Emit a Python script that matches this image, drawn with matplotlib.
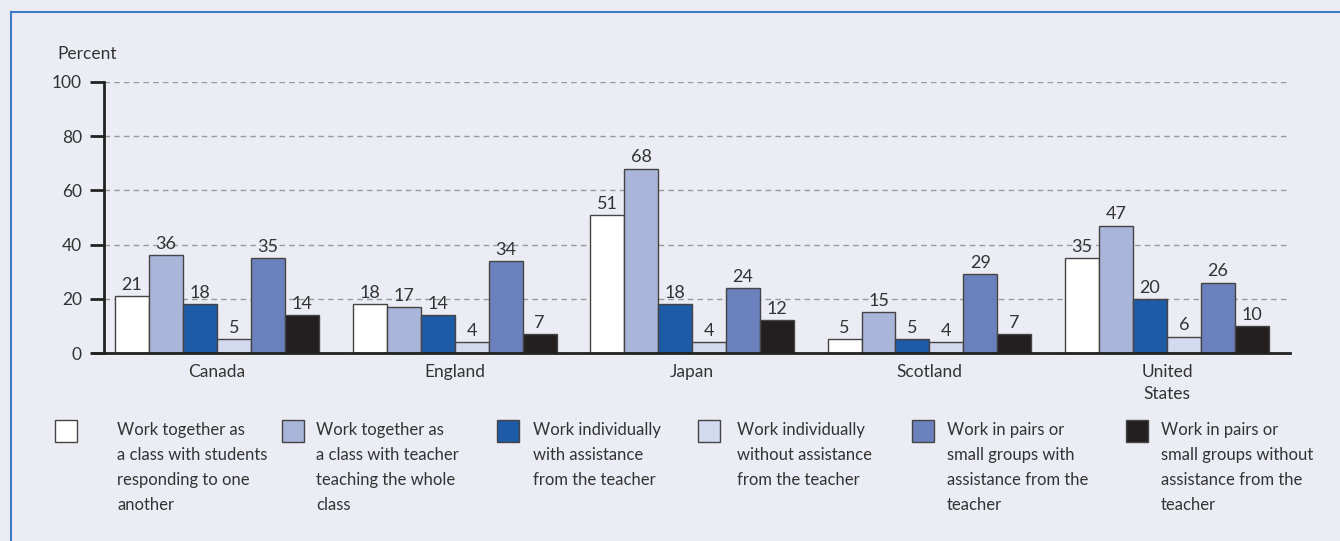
import numpy as np
import matplotlib
matplotlib.use("Agg")
import matplotlib.pyplot as plt
from matplotlib.patches import Rectangle
from matplotlib.lines import Line2D

countries = ["Canada", "England", "Japan", "Scotland", "United\nStates"]
series_labels = [
    "Work together as\na class with students\nresponding to one\nanother",
    "Work together as\na class with teacher\nteaching the whole\nclass",
    "Work individually\nwith assistance\nfrom the teacher",
    "Work individually\nwithout assistance\nfrom the teacher",
    "Work in pairs or\nsmall groups with\nassistance from the\nteacher",
    "Work in pairs or\nsmall groups without\nassistance from the\nteacher",
]
class_students = [21, 18, 51, 5, 35]
class_teacher = [36, 17, 68, 15, 47]
indiv_assist = [18, 14, 18, 5, 20]
indiv_no_assist = [5, 4, 4, 4, 6]
pairs_assist = [35, 34, 24, 29, 26]
pairs_no_assist = [14, 7, 12, 7, 10]
yticks = [0, 20, 40, 60, 80, 100]

series = [class_students, class_teacher, indiv_assist, indiv_no_assist, pairs_assist, pairs_no_assist]
colors = ["#FFFFFF", "#A9B6DA", "#1E5BA6", "#D3D9EE", "#6A81BE", "#231F20"]

BG = "#ECECF4"
TXT = "#333333"
plt.rcParams["font.family"] = ["Lato", "DejaVu Sans"]

fig = plt.figure(figsize=(13.4, 5.41), dpi=100, facecolor=BG)
ax = fig.add_axes([104 / 1340, 1 - 353 / 541, (1290 - 104) / 1340, (353 - 82) / 541])
ax.set_facecolor(BG)

# frame lines (top and left)
fig.add_artist(Line2D([11 / 1340, 1], [1 - 12 / 541, 1 - 12 / 541], color="#3F7CC8", lw=1.5))
fig.add_artist(Line2D([11 / 1340, 11 / 1340], [0, 1 - 12 / 541], color="#3F7CC8", lw=1.5))

x = np.arange(len(countries))
w = 34 / 237.5
for i, vals in enumerate(series):
    pos = x + (i - 2.5) * w
    bars = ax.bar(pos, vals, width=w, color=colors[i], edgecolor="#444444", linewidth=1.0, zorder=3)
    for b, v in zip(bars, vals):
        ax.text(b.get_x() + b.get_width() / 2, v + 1.2, str(v), ha="center", va="bottom",
                fontsize=13, color=TXT, zorder=4)

ax.set_xlim(-0.476, 4.518)
ax.set_ylim(0, 100)
ax.set_yticks(yticks)
ax.set_yticklabels([str(t) for t in yticks], fontsize=12.5, color=TXT)
ax.yaxis.grid(True, linestyle=(0, (4, 3)), color="#9A9A9A", linewidth=1.0, zorder=0)
ax.tick_params(axis="y", length=10, width=2, color="#222222", direction="out", pad=6)
ax.set_xticks(x)
ax.set_xticklabels(countries, fontsize=12.5, color=TXT, linespacing=1.45)
ax.tick_params(axis="x", length=0, pad=8)
for s in ["top", "right"]:
    ax.spines[s].set_visible(False)
ax.spines["left"].set_linewidth(2)
ax.spines["left"].set_color("#222222")
ax.spines["bottom"].set_linewidth(2)
ax.spines["bottom"].set_color("#222222")
ax.spines["bottom"].set_bounds(-0.476 - 11 / 237.5, 4.518)
ax.spines["bottom"].set_zorder(5)

fig.text(57 / 1340, 1 - 54 / 541, "Percent", fontsize=12.5, color=TXT, va="center", ha="left")

# legend
patch_x = [55, 282, 497, 698, 912, 1126]
text_x = [117, 316, 533, 737, 947, 1161]
for px, tx, col, lab in zip(patch_x, text_x, colors, series_labels):
    fig.add_artist(Rectangle((px / 1340, 1 - 442 / 541), 22 / 1340, 22 / 541,
                             facecolor=col, edgecolor="#444444", linewidth=1.0,
                             transform=fig.transFigure))
    fig.text(tx / 1340, 1 - 422 / 541, lab, fontsize=12, color=TXT, va="top", ha="left",
             linespacing=1.7)

fig.savefig("out.png", dpi=100, facecolor=BG)
